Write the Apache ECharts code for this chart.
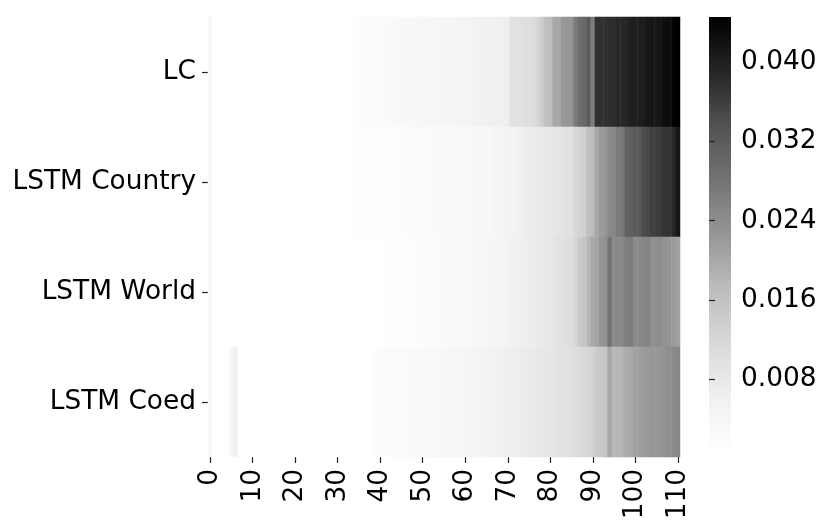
<!DOCTYPE html>
<html>
<head>
<meta charset="utf-8">
<script src="https://cdn.jsdelivr.net/npm/echarts@6/dist/echarts.min.js"></script>
<style>
html,body{margin:0;padding:0;background:#fff;}
#chart{width:831px;height:532px;}
</style>
</head>
<body>
<div id="chart"></div>
<script>
const rowLabels = ['LC', 'LSTM Country', 'LSTM World', 'LSTM Coed'];
const columnLabels = Array.from({length: 111}, (_, i) => String(i));
const colorbarTicks = [0.008, 0.016, 0.024, 0.032, 0.040];
const valueMin = 0.0006;
const valueMax = 0.0446;

const lc = [
  0.0035,
  0.0006,0.0006,0.0006,0.0006,0.0006,0.0006,0.0006,0.0006,0.0006,0.0006,0.0006,
  0.0006,0.0006,0.0006,0.0006,0.0006,0.0006,0.0006,0.0006,0.0006,0.0006,0.0006,
  0.0006,0.0006,0.0006,0.0006,0.0006,0.0006,0.0006,0.0006,0.0006,0.0006,0.0006,
  0.0015,0.0016,0.0018,0.0019,0.0020,0.0022,0.0023,
  0.0024,0.0026,0.0027,0.0028,0.0030,0.0031,0.0032,0.0033,0.0034,0.0035,0.0036,0.0037,0.0038,0.0039,
  0.0040,0.0041,0.0042,0.0043,0.0045,0.0046,0.0048,0.0050,0.0052,0.0054,0.0056,0.0058,0.0060,0.0062,0.0063,0.0066,
  0.0094,0.0097,0.0099,0.0102,0.0104,0.0106,0.0120,0.0140,
  0.0166,0.0169,
  0.0201,0.0201,
  0.0223,0.0226,0.0229,
  0.0270,
  0.0291,0.0301,
  0.0321,
  0.0266,
  0.0377,0.0378,0.0379,0.0380,0.0381,
  0.0389,0.0389,0.0390,
  0.0400,0.0400,0.0402,0.0403,
  0.0412,0.0413,0.0414,0.0417,
  0.0426,0.0427,
  0.0441,0.0446
];

const lstmCountry = [
  0.0032,
  0.0006,0.0006,0.0006,0.0006,0.0006,0.0006,0.0006,0.0006,0.0006,0.0006,
  0.0006,0.0006,0.0006,0.0006,0.0006,0.0006,0.0006,0.0006,0.0006,0.0006,
  0.0006,0.0006,0.0006,0.0006,0.0006,0.0006,0.0006,0.0006,0.0006,0.0006,
  0.0007,0.0007,0.0008,0.0008,0.0009,0.0009,0.0010,0.0010,0.0011,0.0011,
  0.0012,0.0013,0.0014,0.0015,0.0016,0.0017,0.0018,0.0019,0.0020,0.0020,0.0021,0.0022,0.0023,0.0024,
  0.0024,0.0025,0.0026,0.0027,0.0028,0.0029,0.0030,0.0031,0.0032,0.0033,0.0034,0.0036,
  0.0043,0.0046,0.0046,0.0050,0.0050,0.0054,
  0.0061,0.0066,0.0068,0.0070,0.0073,0.0075,
  0.0080,0.0082,0.0085,0.0087,
  0.0094,0.0097,0.0099,
  0.0120,0.0126,
  0.0136,
  0.0166,0.0173,
  0.0201,
  0.0219,0.0226,
  0.0245,0.0251,
  0.0270,
  0.0276,
  0.0309,0.0314,
  0.0321,0.0324,
  0.0343,0.0347,
  0.0358,0.0362,0.0364,
  0.0373,
  0.0374,
  0.0389,
  0.0413
];

const lstmWorld = [
  0.0032,
  0.0006,0.0006,0.0006,0.0006,0.0006,0.0006,0.0006,0.0006,0.0006,0.0006,
  0.0006,0.0006,0.0006,0.0006,0.0006,0.0006,0.0006,0.0006,0.0006,0.0006,
  0.0006,0.0006,0.0006,0.0006,0.0006,0.0006,0.0006,0.0006,0.0006,0.0006,
  0.0006,0.0006,0.0006,0.0006,0.0006,0.0006,0.0006,0.0006,0.0006,0.0006,
  0.0008,0.0009,0.0010,0.0011,0.0012,0.0013,0.0014,0.0016,0.0017,0.0018,0.0019,0.0020,0.0022,0.0023,
  0.0024,0.0025,0.0026,0.0027,0.0028,0.0030,0.0031,0.0032,0.0034,0.0035,0.0037,0.0039,
  0.0043,0.0046,0.0050,0.0054,0.0057,0.0061,0.0061,0.0063,
  0.0066,0.0068,0.0073,0.0075,0.0078,0.0080,
  0.0090,0.0094,0.0097,0.0102,0.0106,
  0.0124,
  0.0146,0.0154,
  0.0178,
  0.0198,0.0208,
  0.0226,0.0234,
  0.0281,
  0.0245,0.0248,0.0251,
  0.0264,0.0267,
  0.0245,0.0248,
  0.0250,0.0253,
  0.0237,0.0239,0.0240,
  0.0231,0.0228,
  0.0220,
  0.0212
];

const lstmCoed = [
  0.0032,
  0.0006,0.0006,0.0006,0.0006,
  0.0035,
  0.0061,
  0.0006,0.0006,0.0006,0.0006,0.0006,0.0006,0.0006,0.0006,
  0.0006,0.0006,0.0006,0.0006,0.0006,0.0006,0.0006,0.0006,
  0.0006,0.0006,0.0006,0.0006,0.0006,0.0006,0.0006,0.0006,
  0.0006,0.0006,0.0006,0.0006,0.0006,0.0006,0.0006,0.0006,
  0.0016,0.0017,0.0018,0.0019,0.0020,0.0021,0.0022,0.0023,0.0024,0.0025,0.0026,0.0027,0.0028,0.0029,0.0030,0.0031,
  0.0032,0.0034,0.0035,0.0037,0.0039,0.0041,0.0043,0.0044,0.0046,0.0048,0.0050,0.0052,0.0054,
  0.0057,0.0061,0.0063,0.0066,0.0066,0.0068,
  0.0070,0.0073,0.0075,0.0078,0.0080,0.0082,0.0085,0.0087,
  0.0092,0.0094,0.0097,0.0099,
  0.0106,0.0111,0.0116,
  0.0124,0.0128,
  0.0144,0.0150,
  0.0160,
  0.0201,
  0.0177,0.0180,
  0.0187,
  0.0198,0.0201,
  0.0209,0.0212,
  0.0219,0.0222,
  0.0225,0.0226,0.0228,
  0.0234,0.0237,
  0.0245,0.0248
];

const greys = ['#ffffff','#f0f0f0','#d9d9d9','#bdbdbd','#969696','#737373','#525252','#252525','#000000'];

const rows = [lc, lstmCountry, lstmWorld, lstmCoed];
const cells = [];
rows.forEach((row, r) => row.forEach((v, c) => cells.push([c, r, v])));

const FONT = 'DejaVu Sans';
const FS = 26.4;
const chart = echarts.init(document.getElementById('chart'), null, {renderer: 'canvas'});
chart.setOption({
  animation: false,
  backgroundColor: '#ffffff',
  textStyle: {fontFamily: FONT},
  grid: [
    {left: 208, top: 17, width: 472, height: 440},
    {left: 709, top: 17, width: 22, height: 435}
  ],
  xAxis: [
    {
      type: 'category', gridIndex: 0, data: columnLabels,
      axisLine: {show: false},
      axisTick: {show: true, interval: 9, alignWithLabel: true, length: 6, lineStyle: {color: '#222', width: 1.2}},
      axisLabel: {interval: 9, rotate: 90, margin: 12, fontSize: FS, color: '#000', fontFamily: FONT},
      splitLine: {show: false}, splitArea: {show: false}
    },
    {
      type: 'value', gridIndex: 1, show: false, min: 0, max: 1
    }
  ],
  yAxis: [
    {
      type: 'category', gridIndex: 0, data: rowLabels, inverse: true,
      axisLine: {show: false},
      axisTick: {show: true, alignWithLabel: true, length: 6, lineStyle: {color: '#222', width: 1.2}},
      axisLabel: {margin: 12, fontSize: FS, color: '#000', fontFamily: FONT},
      splitLine: {show: false}, splitArea: {show: false}
    },
    {
      type: 'value', gridIndex: 1, position: 'right', min: valueMin, max: valueMax,
      axisLine: {show: false},
      axisTick: {show: true, length: 6, customValues: colorbarTicks, lineStyle: {color: '#222', width: 1.2}},
      axisLabel: {show: true, margin: 10, fontSize: FS, color: '#000', fontFamily: FONT,
        customValues: colorbarTicks, formatter: v => Number(v).toFixed(3)},
      splitLine: {show: false}
    }
  ],
  visualMap: {
    type: 'continuous', min: valueMin, max: valueMax, seriesIndex: 0,
    show: false,
    inRange: {color: greys}
  },
  graphic: [{
    type: 'rect', left: 709, top: 17, z: 0,
    shape: {width: 22, height: 435},
    style: {
      fill: new echarts.graphic.LinearGradient(0, 1, 0, 0,
        greys.map((c, i) => ({offset: i / (greys.length - 1), color: c})))
    }
  }],
  series: [
    {
      type: 'heatmap', xAxisIndex: 0, yAxisIndex: 0, data: cells,
      progressive: 0, emphasis: {disabled: true},
      itemStyle: {borderWidth: 0}
    },
    {
      type: 'scatter', xAxisIndex: 1, yAxisIndex: 1, data: [], silent: true
    }
  ]
});
</script>
</body>
</html>
